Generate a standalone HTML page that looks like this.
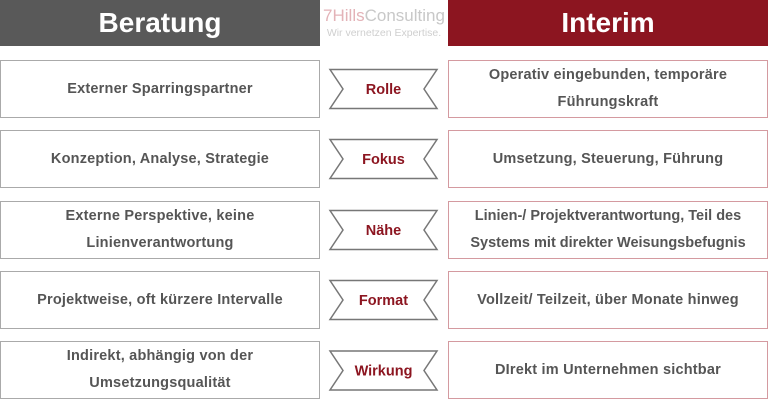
<!DOCTYPE html>
<html><head><meta charset="utf-8"><style>
*{margin:0;padding:0;box-sizing:border-box}
body{width:768px;height:401px;background:#fff;position:relative;overflow:hidden;font-family:"Liberation Sans",Arial,sans-serif}
.h{position:absolute;top:0;height:46px;color:#fff;font-weight:bold;font-size:28px;display:flex;align-items:center;justify-content:center}
.b{position:absolute;height:58px;display:flex;align-items:center;justify-content:center;text-align:center;font-weight:bold;font-size:14.5px;color:#555;line-height:27px;background:#fff;letter-spacing:0.2px}
.l{left:0;width:320px;border:1.5px solid #aaa}
.r{left:448px;width:320px;border:1.5px solid #d49aa0}
svg{position:absolute;left:0;top:0}
</style></head><body>
<div class="h" style="left:0;width:320px;background:#595959">Beratung</div>
<div class="h" style="left:448px;width:320px;background:#8c1520">Interim</div>
<div style="position:absolute;left:320px;top:6px;width:128px;text-align:center;color:#e3b3b8;font-size:17px;line-height:20px">7Hills<span style="color:#c8c8c8">Consulting</span></div>
<div style="position:absolute;left:320px;top:27px;width:128px;text-align:center;color:#cfcfcf;font-size:10.5px">Wir vernetzen Expertise.</div>

<div class="b l" style="top:60px">Externer Sparringspartner</div>
<div class="b l" style="top:130px">Konzeption, Analyse, Strategie</div>
<div class="b l" style="top:201px">Externe Perspektive, keine<br>Linienverantwortung</div>
<div class="b l" style="top:271px">Projektweise, oft kürzere Intervalle</div>
<div class="b l" style="top:341px">Indirekt, abhängig von der<br>Umsetzungsqualität</div>

<div class="b r" style="top:60px">Operativ eingebunden, temporäre<br>Führungskraft</div>
<div class="b r" style="top:130px">Umsetzung, Steuerung, Führung</div>
<div class="b r" style="top:201px;letter-spacing:0">Linien-/ Projektverantwortung, Teil des<br>Systems mit direkter Weisungsbefugnis</div>
<div class="b r" style="top:271px">Vollzeit/ Teilzeit, über Monate hinweg</div>
<div class="b r" style="top:341px">DIrekt im Unternehmen sichtbar</div>

<svg width="768" height="401" viewBox="0 0 768 401">
<g fill="#fff" stroke="#777" stroke-width="1.5">
<polygon points="330,69.5 437,69.5 424,89 437,108.5 330,108.5 343,89"/>
<polygon points="330,139.5 437,139.5 424,159 437,178.5 330,178.5 343,159"/>
<polygon points="330,210.5 437,210.5 424,230 437,249.5 330,249.5 343,230"/>
<polygon points="330,280.5 437,280.5 424,300 437,319.5 330,319.5 343,300"/>
<polygon points="330,351 437,351 424,370.5 437,390 330,390 343,370.5"/>
</g>
<g fill="#8c1520" stroke="none" font-family="Liberation Sans, Arial, sans-serif" font-weight="bold" font-size="14.5" text-anchor="middle">
<text x="383.5" y="94">Rolle</text>
<text x="383.5" y="164">Fokus</text>
<text x="383.5" y="235">Nähe</text>
<text x="383.5" y="305">Format</text>
<text x="383.5" y="375.5">Wirkung</text>
</g>
</svg>
</body></html>
